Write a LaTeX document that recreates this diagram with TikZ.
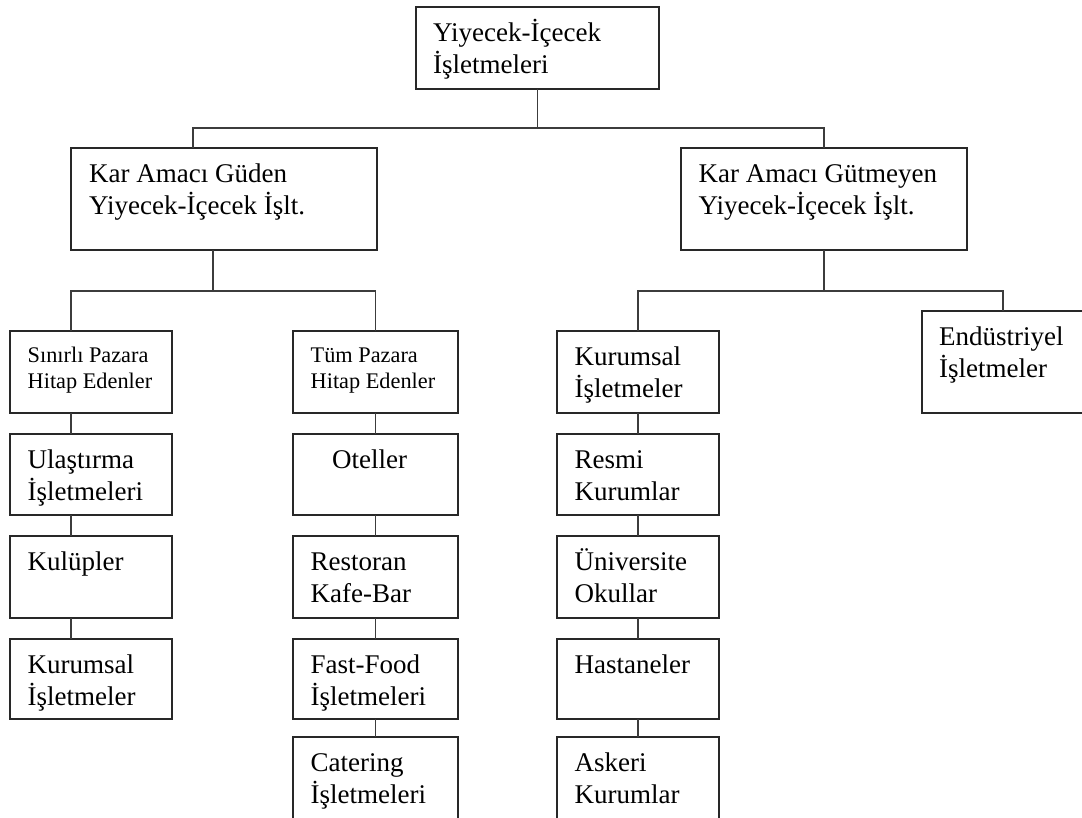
\documentclass[tikz,border=0pt]{standalone}
\usepackage{fontspec}
\setmainfont{Liberation Serif}
\usetikzlibrary{calc}
\definecolor{boxc}{RGB}{40,40,40}
\definecolor{linec}{RGB}{60,60,60}
\tikzset{
  box/.style={draw=boxc, line width=1.8pt, inner sep=0pt, outer sep=0pt, rectangle},
  conn/.style={draw=linec, line width=1.7pt},
  big/.style={font=\fontsize{27}{32}\selectfont, align=left, inner sep=0pt, anchor=north west},
  small/.style={font=\fontsize{22.3}{26}\selectfont, align=left, inner sep=0pt, anchor=north west},
}
\newcommand\tbigS{\rule{0pt}{34pt}}
\newcommand\tsmallS{\rule{0pt}{31pt}}
\newcommand\mkbox[8]{%
  \node[box, minimum width={#4pt-#2pt}, minimum height={#5pt-#3pt}] (#1) at ({(#2+#4)/2},{(#3+#5)/2}) {};
  \node[#7] (#1-t) at ($(#1.north west)+(#6,0)$) {\csname t#7S\endcsname#8};
}
\begin{document}
\begin{tikzpicture}[x=1pt,y=-1pt]
\useasboundingbox (0,0) rectangle (1082,817);
\clip (0,0) rectangle (1082,817);
\fill[white] (0,0) rectangle (1082,817);

\mkbox{top}{416}{7}{659}{89}{17}{big}{Yiyecek-İçecek\\İşletmeleri}
\mkbox{kg}{71}{148}{377}{250}{18}{big}{Kar Amacı Güden\\Yiyecek-İçecek İşlt.}
\mkbox{kgm}{681}{148}{967}{250}{17.5}{big}{Kar Amacı Gütmeyen\\Yiyecek-İçecek İşlt.}
\mkbox{sin}{10}{331}{172}{413}{17.5}{small}{Sınırlı Pazara\\Hitap Edenler}
\mkbox{ula}{10}{434}{172}{515}{17.5}{big}{Ulaştırma\\İşletmeleri}
\mkbox{kul}{10}{536}{172}{618}{17.5}{big}{Kulüpler}
\mkbox{kur}{10}{639}{172}{719}{17.5}{big}{Kurumsal\\İşletmeler}
\mkbox{tum}{293}{331}{458}{413}{17.5}{small}{Tüm Pazara\\Hitap Edenler}
\mkbox{otel}{293}{434}{458}{515}{39}{big}{Oteller}
\mkbox{rest}{293}{536}{458}{618}{17.5}{big}{Restoran\\Kafe-Bar}
\mkbox{fast}{293}{639}{458}{719}{17.5}{big}{Fast-Food\\İşletmeleri}
\mkbox{cat}{293}{737}{458}{822}{17.5}{big}{Catering\\İşletmeleri}
\mkbox{kurr}{557}{331}{719}{413}{17.5}{big}{Kurumsal\\İşletmeler}
\mkbox{res}{557}{434}{719}{515}{17.5}{big}{Resmi\\Kurumlar}
\mkbox{uni}{557}{536}{719}{618}{17.5}{big}{Üniversite\\Okullar}
\mkbox{has}{557}{639}{719}{719}{17.5}{big}{Hastaneler}
\mkbox{ask}{557}{737}{719}{822}{17.5}{big}{Askeri\\Kurumlar}
\mkbox{endu}{922}{311}{1084}{413}{17}{big}{Endüstriyel\\İşletmeler}

\draw[conn] (top.south) -- ++(0,39) coordinate (j1);
\draw[conn] ($(kg.north west)+(122,0)$) |- (j1) -| (kgm.north);
\draw[conn] ($(kg.south west)+(142,0)$) -- ++(0,41) coordinate (j2);
\draw[conn] ($(sin.north west)+(61,0)$) |- (j2) -| (tum.north);
\draw[conn] (kgm.south) -- ++(0,41) coordinate (j3);
\draw[conn] (kurr.north) |- (j3) -| (endu.north);
\foreach \a/\b in {sin/ula, ula/kul, kul/kur}
  \draw[conn] ($(\a.south west)+(61,0)$) -- ($(\b.north west)+(61,0)$);
\foreach \a/\b in {tum/otel, otel/rest, rest/fast, fast/cat, kurr/res, res/uni, uni/has, has/ask}
  \draw[conn] (\a.south) -- (\b.north);
\end{tikzpicture}
\end{document}
